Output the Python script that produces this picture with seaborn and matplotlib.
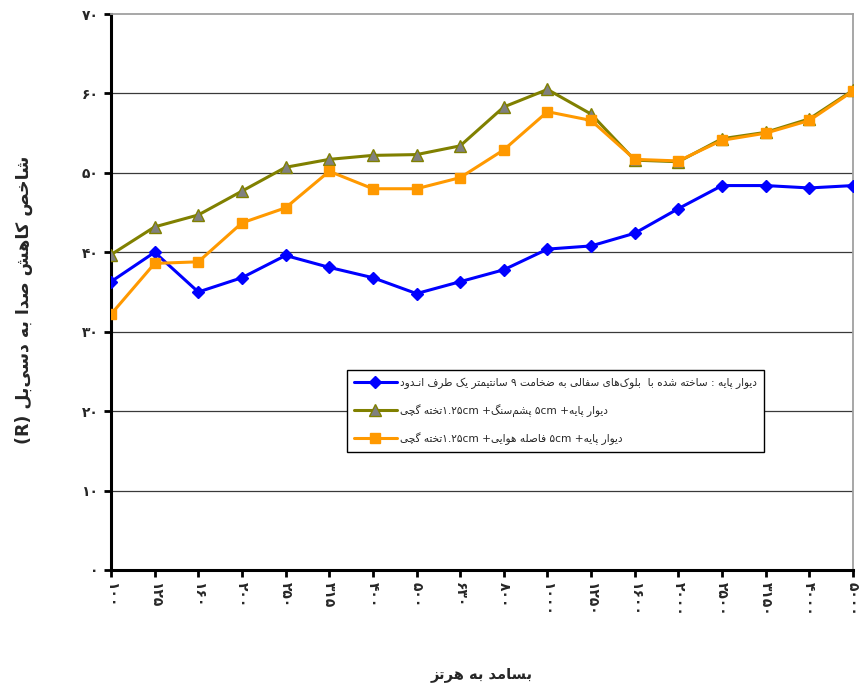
import matplotlib
matplotlib.use("Agg")
import matplotlib.pyplot as plt
import seaborn as sns
import pandas as pd

# ---- data -------------------------------------------------------------
freqs = [100, 125, 160, 200, 250, 315, 400, 500, 630, 800, 1000, 1250,
         1600, 2000, 2500, 3150, 4000, 5000]
base_wall = [36.3, 40.0, 35.0, 36.8, 39.6, 38.1, 36.8, 34.8, 36.3, 37.8,
             40.4, 40.8, 42.4, 45.5, 48.4, 48.4, 48.1, 48.4]
rockwool_wall = [39.7, 43.2, 44.7, 47.7, 50.7, 51.7, 52.2, 52.3, 53.4, 58.3,
                 60.5, 57.4, 51.6, 51.4, 54.3, 55.1, 56.8, 60.4]
airgap_wall = [32.2, 38.6, 38.8, 43.7, 45.6, 50.2, 48.0, 48.0, 49.4, 52.9,
               57.7, 56.6, 51.7, 51.5, 54.1, 55.0, 56.6, 60.3]
series_names = [
    "دیوار پایه : ساخته شده با  بلوک\u200cهای سفالی به ضخامت ۹ سانتیمتر یک طرف انـدود",
    "دیوار پایه+ ۵cm پشم\u200cسنگ+ ۱.۲۵cmتخته گچی",
    "دیوار پایه+ ۵cm فاصله هوایی+ ۱.۲۵cmتخته گچی",
]
y_ticks = [0, 10, 20, 30, 40, 50, 60, 70]
x_title = "بسامد به هرتز"
y_title = "شاخص کاهش صدا به دسی\u200cبل (R)"

# ---- minimal Arabic-script shaping + bidi for matplotlib ---------------
FORMS = {  # isolated, final, initial, medial
    'ا': (0xFE8D, 0xFE8E, None, None), 'ب': (0xFE8F, 0xFE90, 0xFE91, 0xFE92),
    'پ': (0xFB56, 0xFB57, 0xFB58, 0xFB59), 'ت': (0xFE95, 0xFE96, 0xFE97, 0xFE98),
    'چ': (0xFB7A, 0xFB7B, 0xFB7C, 0xFB7D), 'خ': (0xFEA5, 0xFEA6, 0xFEA7, 0xFEA8),
    'د': (0xFEA9, 0xFEAA, None, None), 'ر': (0xFEAD, 0xFEAE, None, None),
    'ز': (0xFEAF, 0xFEB0, None, None), 'س': (0xFEB1, 0xFEB2, 0xFEB3, 0xFEB4),
    'ش': (0xFEB5, 0xFEB6, 0xFEB7, 0xFEB8), 'ص': (0xFEB9, 0xFEBA, 0xFEBB, 0xFEBC),
    'ض': (0xFEBD, 0xFEBE, 0xFEBF, 0xFEC0), 'ط': (0xFEC1, 0xFEC2, 0xFEC3, 0xFEC4),
    'ف': (0xFED1, 0xFED2, 0xFED3, 0xFED4), 'ک': (0xFB8E, 0xFB8F, 0xFB90, 0xFB91),
    'گ': (0xFB92, 0xFB93, 0xFB94, 0xFB95), 'ل': (0xFEDD, 0xFEDE, 0xFEDF, 0xFEE0),
    'م': (0xFEE1, 0xFEE2, 0xFEE3, 0xFEE4), 'ن': (0xFEE5, 0xFEE6, 0xFEE7, 0xFEE8),
    'ه': (0xFEE9, 0xFEEA, 0xFEEB, 0xFEEC), 'و': (0xFEED, 0xFEEE, None, None),
    'ی': (0xFBFC, 0xFBFD, 0xFBFE, 0xFBFF),
}
TATWEEL = '\u0640'


def _joins(c):
    return c in FORMS or c == TATWEEL


def _dual(c):
    return c == TATWEEL or (c in FORMS and FORMS[c][2] is not None)


def shape(text):
    out = []
    for i, c in enumerate(text):
        if c not in FORMS:
            out.append(c)
            continue
        prev = text[i - 1] if i > 0 else None
        nxt = text[i + 1] if i + 1 < len(text) else None
        jp = prev is not None and _dual(prev)
        jn = nxt is not None and _joins(nxt) and _dual(c)
        iso, fin, ini, med = FORMS[c]
        out.append(chr(med if jp and jn else fin if jp else ini if jn else iso))
    return ''.join(out).replace('\u200c', '')


def _is_rtl(ch):
    cp = ord(ch)
    return ((0x0600 <= cp <= 0x06FF and not 0x06F0 <= cp <= 0x06F9
             and not 0x0660 <= cp <= 0x0669) or 0xFB50 <= cp <= 0xFEFF)


def visual(text):
    s = shape(text)
    types = ['R' if _is_rtl(c) else 'L' if c.isalnum() else 'N' for c in s]
    i, n = 0, len(s)
    while i < n:
        if types[i] == 'N':
            j = i
            while j < n and types[j] == 'N':
                j += 1
            left = types[i - 1] if i > 0 else 'R'
            right = types[j] if j < n else 'R'
            d = left if left == right else 'R'
            for k in range(i, j):
                types[k] = d
            i = j
        else:
            i += 1
    runs = []
    for c, t in zip(s, types):
        if runs and runs[-1][0] == t:
            runs[-1][1].append(c)
        else:
            runs.append([t, [c]])
    mirror = {'(': ')', ')': '('}
    out = []
    for t, cs in reversed(runs):
        if t == 'R':
            out.append(''.join(mirror.get(c, c) for c in reversed(cs)))
        else:
            out.append(''.join(cs))
    return ''.join(out)


def fa_digits(v):
    return str(v).translate(str.maketrans('0123456789', '۰۱۲۳۴۵۶۷۸۹'))


# ---- plot ---------------------------------------------------------------
sns.set_theme(style="white")
plt.rcParams['font.family'] = ['DejaVu Sans']

df = pd.DataFrame({
    'pos': list(range(len(freqs))) * 3,
    'R': base_wall + rockwool_wall + airgap_wall,
    'series': sum([[visual(nm)] * len(freqs) for nm in series_names], []),
})

fig = plt.figure(figsize=(8.59, 6.90), dpi=100)
ax = fig.add_axes([111 / 859, 1 - 570 / 690, 742 / 859, 556 / 690])

styles = [
    dict(color='#0000FF', marker='D', markersize=6.5, markerfacecolor='#0000FF',
         markeredgecolor='#0000FF'),
    dict(color='#808000', marker='^', markersize=8, markerfacecolor='#808080',
         markeredgecolor='#808000'),
    dict(color='#FF9900', marker='s', markersize=7, markerfacecolor='#FF9900',
         markeredgecolor='#FF9900'),
]
for nm, st in zip(series_names, styles):
    sub = df[df['series'] == visual(nm)]
    sns.lineplot(data=sub, x='pos', y='R', ax=ax, label=visual(nm),
                 linewidth=2.2, markeredgewidth=1, zorder=3, **st)

ax.set_xlim(0, len(freqs) - 1)
ax.set_ylim(0, 70)
ax.set_yticks(y_ticks)
ax.set_yticklabels([fa_digits(t) for t in y_ticks], fontweight='bold',
                   fontsize=10)
ax.set_xticks(range(len(freqs)))
ax.set_xticklabels([fa_digits(f) for f in freqs], rotation=-90,
                   fontweight='bold', fontsize=10, va='top', ha='center')

for t in y_ticks[1:-1]:
    ax.axhline(t, color='#3a3a3a', linewidth=0.9, zorder=1)

for side in ('left', 'bottom'):
    ax.spines[side].set_color('black')
    ax.spines[side].set_linewidth(2.2)
for side in ('top', 'right'):
    ax.spines[side].set_color('#a0a0a0')
    ax.spines[side].set_linewidth(1.3)
ax.tick_params(axis='both', direction='out', length=5, width=2,
               color='black', pad=4, left=True, bottom=True)

ax.set_xlabel(visual(x_title), fontweight='bold', fontsize=10.5,
              labelpad=36)
ax.set_ylabel(visual(y_title), fontweight='bold', fontsize=12.5)
ax.yaxis.set_label_coords(-0.105, 0.485)

leg = ax.legend(loc='upper left', bbox_to_anchor=(0.318, 0.36),
                frameon=True, fancybox=False, edgecolor='black',
                framealpha=1, fontsize=7.6, handlelength=4.0,
                borderpad=0.7, labelspacing=1.45, handletextpad=0.3,
                borderaxespad=0)
leg.get_frame().set_linewidth(1.0)
leg.set_zorder(5)

fig.savefig('out.png', dpi=100, facecolor='white')
